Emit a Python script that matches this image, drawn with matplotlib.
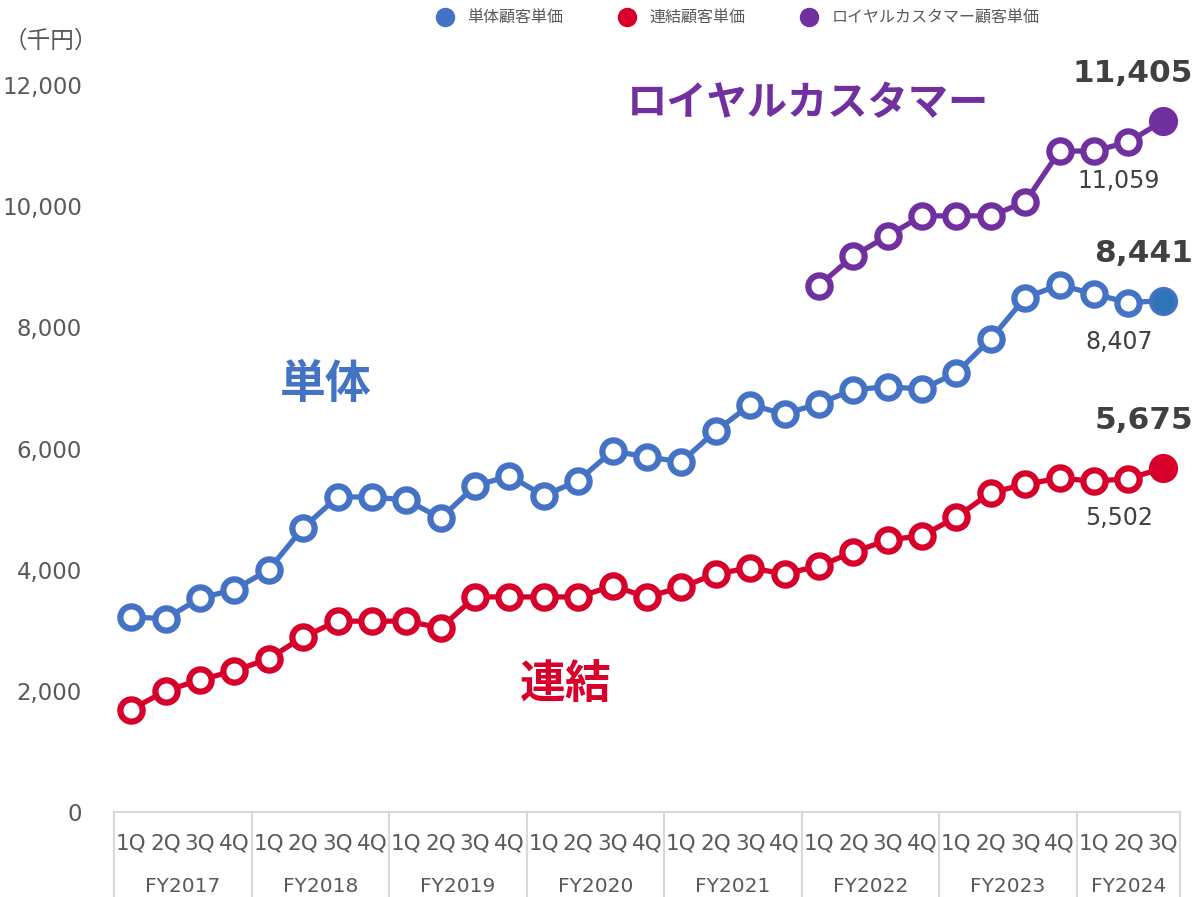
import numpy as np
import matplotlib
matplotlib.use("Agg")
import matplotlib.pyplot as plt
import matplotlib.transforms as mtransforms
from matplotlib.lines import Line2D

# ---------------- data ----------------
years = ["FY2017", "FY2018", "FY2019", "FY2020", "FY2021", "FY2022", "FY2023", "FY2024"]
quarters_per_year = [4, 4, 4, 4, 4, 4, 4, 3]
quarter_names = ["1Q", "2Q", "3Q", "4Q"]

tantai = [3220, 3190, 3530, 3670, 4000, 4690, 5200, 5200, 5150, 4850,
          5380, 5550, 5220, 5470, 5960, 5860, 5780, 6290, 6720, 6570,
          6740, 6970, 7020, 6980, 7250, 7810, 8490, 8700, 8550, 8407, 8441]
renketsu = [1690, 2000, 2180, 2330, 2530, 2890, 3150, 3150, 3150, 3040,
            3550, 3550, 3550, 3550, 3730, 3550, 3710, 3930, 4030, 3930,
            4060, 4290, 4490, 4560, 4870, 5270, 5410, 5510, 5460, 5502, 5675]
royal = [None] * 20 + [8690, 9180, 9510, 9840, 9840, 9840, 10070, 10910, 10910, 11059, 11405]

series_names = ["単体顧客単価", "連結顧客単価", "ロイヤルカスタマー顧客単価"]
series_tags = ["単体", "連結", "ロイヤルカスタマー"]
yticks = [0, 2000, 4000, 6000, 8000, 10000, 12000]
unit_label = "（千円）"

# ---------------- style ----------------
BLUE = "#4472C4"
RED = "#D6002A"
PURPLE = "#7030A0"
GRAY = "#595959"
DARK = "#404040"
CJK = ["Noto Sans CJK JP", "DejaVu Sans"]

fig = plt.figure(figsize=(11.98, 8.97), dpi=100)
ax = fig.add_axes([114 / 1198, 1 - 812 / 897, (1180 - 114) / 1198, (812 - 85) / 897])

n = len(tantai)
x = np.arange(n)


def to_arr(v):
    return np.array([np.nan if a is None else a for a in v], dtype=float)


series = [to_arr(tantai), to_arr(renketsu), to_arr(royal)]
colors = [BLUE, RED, PURPLE]
last_fill = ["#2E75B6", RED, PURPLE]

for y, c, lf in zip(series, colors, last_fill):
    ax.plot(x, y, color=c, lw=3.8, zorder=2, clip_on=False,
            solid_capstyle="round")
    ax.plot(x[:-1], y[:-1], ls="none", marker="o", ms=16, mfc="white",
            mec=c, mew=4.5, zorder=3, clip_on=False)
    ax.plot(x[-1:], y[-1:], ls="none", marker="o", ms=18.5, mfc=lf,
            mec=c, mew=2.5, zorder=4, clip_on=False)

# value labels
for y in series:
    ax.annotate(f"{int(y[-1]):,}", (x[-1], y[-1]), xytext=(22, 34),
                textcoords="offset points", ha="right", va="center",
                fontsize=22.5, fontweight="bold", color=DARK)
    ax.annotate(f"{int(y[-2]):,}", (x[-2], y[-2]), xytext=(-7, -28),
                textcoords="offset points", ha="center", va="center",
                fontsize=17, color=DARK)

# series tags
ax.text(5.67, 7050, series_tags[0], color=BLUE, fontsize=33, fontweight="bold",
        family=CJK, ha="center", va="center")
ax.text(12.65, 2080, series_tags[1], color=RED, fontsize=33, fontweight="bold",
        family=CJK, ha="center", va="center")
ax.text(19.68, 11700, series_tags[2], color=PURPLE, fontsize=29, fontweight="bold",
        family=CJK, ha="center", va="center")

# axes
ax.set_xlim(-0.5, n - 0.5)
ax.set_ylim(0, 12000)
ax.set_yticks(yticks)
ax.set_yticklabels([f"{v:,}" for v in yticks])
ax.tick_params(axis="y", length=0, pad=23, labelsize=16.5, labelcolor=GRAY)
ax.set_xticks([])
for s in ["left", "top", "right"]:
    ax.spines[s].set_visible(False)
ax.spines["bottom"].set_color("#D9D9D9")
ax.spines["bottom"].set_linewidth(1.5)

# multi-level category axis
trans = mtransforms.blended_transform_factory(ax.transData, ax.transAxes)
bottom_ax = -(897 - 812) / (812 - 85) - 0.01
q_y = -(843 - 812) / (812 - 85)
yr_y = -(886 - 812) / (812 - 85)
start = 0
bounds = [-0.5]
for yr, nq in zip(years, quarters_per_year):
    for k in range(nq):
        ax.text(start + k, q_y, quarter_names[k], transform=trans, ha="center",
                va="center", fontsize=15.5, color=GRAY)
    ax.text(start + (nq - 1) / 2, yr_y, yr, transform=trans, ha="center",
            va="center", fontsize=14.5, color=GRAY)
    start += nq
    bounds.append(start - 0.5)
for b in bounds:
    ax.plot([b, b], [0, bottom_ax], transform=trans, color="#D9D9D9", lw=1.5,
            clip_on=False)

# unit label
fig.text(4 / 1198, 1 - 41 / 897, unit_label, family=CJK, fontsize=17,
         color=GRAY, ha="left", va="center")

# legend
handles = [Line2D([], [], ls="none", marker="o", ms=13, mfc=c, mec=c)
           for c in colors]
fig.legend(handles, series_names, loc="center", bbox_to_anchor=(738 / 1198, 1 - 18 / 897),
           ncol=3, frameon=False, prop={"family": CJK, "size": 11.5},
           labelcolor=GRAY, handletextpad=0.9, columnspacing=3.5,
           handlelength=1.0)

fig.savefig("out.png", dpi=100, facecolor="white")
